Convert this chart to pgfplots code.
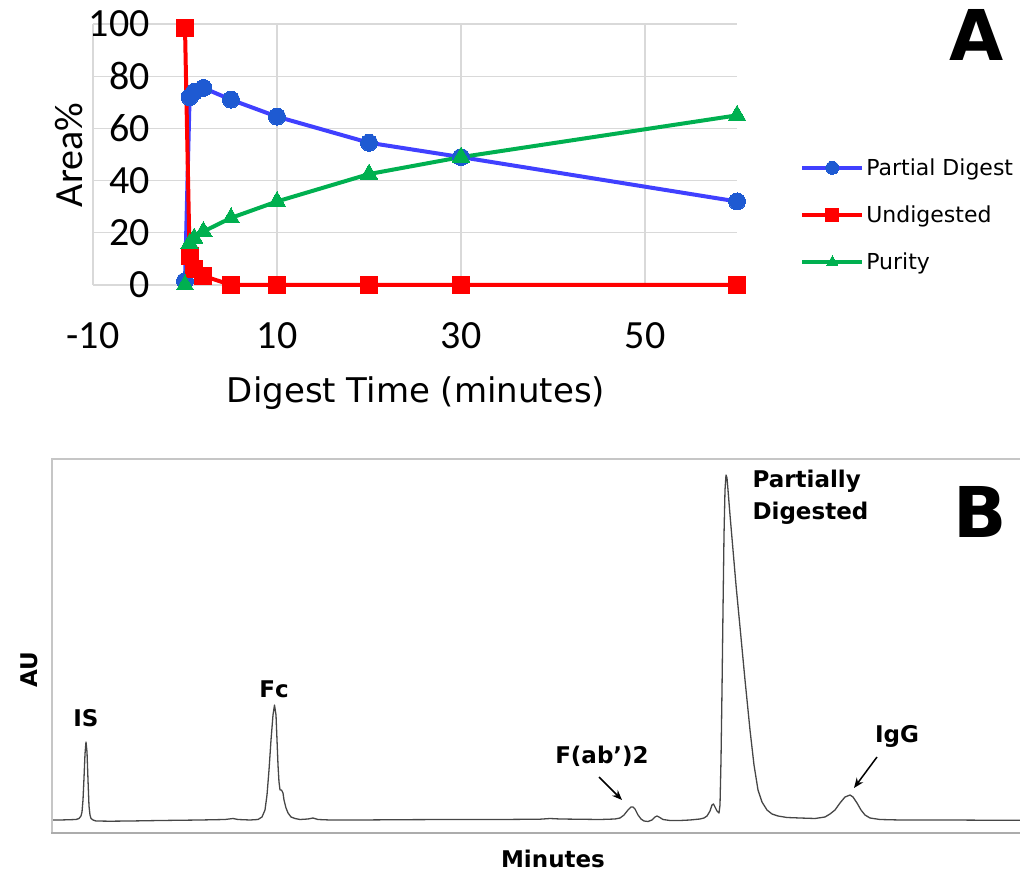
\documentclass[border=0pt]{standalone}
\usepackage{pgfplots}
\pgfplotsset{compat=1.18}
\usepackage{fontspec}
\setmainfont{DejaVu Sans}
\newfontfamily\carlito{Carlito}
\usetikzlibrary{arrows.meta}
\definecolor{pblue}{RGB}{64,64,255}
\definecolor{pbluemark}{RGB}{30,90,210}
\definecolor{pgreen}{RGB}{0,176,80}
\definecolor{gridc}{RGB}{217,217,217}
\definecolor{trace}{RGB}{70,70,70}
\begin{document}
\begin{tikzpicture}[x=1pt,y=1pt]
\useasboundingbox (0,0) rectangle (1020,873);
% ---------------- Panel A ----------------
\begin{axis}[
  at={(93pt,588pt)}, anchor=south west,
  scale only axis, width=644pt, height=261pt,
  xmin=-10, xmax=60, ymin=0, ymax=100,
  xtick={-10,10,30,50}, ytick={0,20,40,60,80,100},
  grid=major, grid style={gridc, line width=1.3pt},
  axis line style={draw=none},
  major tick length=0pt,
  clip=false,
  /pgf/number format/assume math mode=true,
  ticklabel style={font=\carlito\fontsize{40}{40}\selectfont, text=black},
  yticklabel style={anchor=east, inner sep=0pt, xshift=57pt},
  xticklabel style={anchor=north, inner sep=0pt, yshift=-37pt},
  legend style={at={(1.098,0.268)}, anchor=west, draw=none, fill=none,
    inner sep=0pt, row sep=29pt, nodes={inner xsep=2pt, inner ysep=0pt},
    font=\fontsize{22}{22}\selectfont, cells={anchor=west}},
  legend image code/.code={\draw[mark repeat=2, mark phase=2, #1]
     plot coordinates {(0pt,0pt) (30pt,0pt) (60pt,0pt)};},
  legend image post style={mark size=6.5pt},
]
\addplot[pblue, line width=4pt, mark=*, mark size=8.5pt,
  mark options={fill=pbluemark, draw=pbluemark, line width=0pt}]
  coordinates {(0,1.5)(0.5,72)(1,74)(2,75.5)(5,71)(10,64.5)(20,54.5)(30,49)(60,32)};
\addlegendentry{Partial Digest}
\addplot[red, line width=4pt, mark=square*, mark size=8.5pt,
  mark options={fill=red, draw=red, line width=0pt}]
  coordinates {(0,98.5)(0.5,11)(1,6)(2,3.5)(5,0)(10,0)(20,0)(30,0)(60,0)};
\addlegendentry{Undigested}
\addplot[pgreen, line width=4pt, mark=triangle*, mark size=10pt,
  mark options={fill=pgreen, draw=pgreen, line width=0pt}]
  coordinates {(0,0)(0.5,16)(1,18)(2,20.5)(5,25.7)(10,32)(20,42.5)(30,49)(60,65)};
\addlegendentry{Purity}
\end{axis}
\node[rotate=90, anchor=base, font=\carlito\fontsize{40}{40}\selectfont] at (82,718) {Area\%};
\node[anchor=base, font=\fontsize{34}{34}\selectfont] at (416,470) {Digest Time (minutes)};
\node[font=\bfseries\fontsize{70}{70}\selectfont] at (977,838) {A};
% ---------------- Panel B ----------------
\begin{axis}[
  at={(52pt,40pt)}, anchor=south west,
  scale only axis, width=968pt, height=374pt,
  xmin=52, xmax=1020, ymin=-13, ymax=361,
  hide axis, clip=false,
]
\addplot[trace, line width=1.3pt, line join=round] coordinates {
(52,0)(60,0)(70,0.3)(76,0.5)(79,1.5)(81,4)(82,8)(83,20)(84,42)(85,66)(86,78)(87,68)(88,40)(89,14)(90,5)(91,1.5)(93,0)(96,-1)(110,-1.2)(130,-1)(160,-0.5)(200,0)(225,0.5)(233,1.5)(238,0.5)(250,0)
(258,0.5)(262,3)(265,10)(267,25)(269,50)(271,80)(273,105)(274.5,115)(276,105)(277,80)(278,55)(279,38)(280,30)(281.5,30)(283,27)(284,20)(286,12)(288,7)(291,3)(295,1.5)(300,0.5)(308,1)(313,2)(318,0.5)(330,0)
(360,0)(400,0.3)(450,0.5)(500,0.5)(540,0.8)(550,1.5)(560,1)(600,0.5)(615,1)(620,2)(624,5)(628,10)(631,13)(633,13)(635,11)(638,5)(641,1)(644,-1)(648,-1.5)(652,0)(655,3)(657,4)(659,3)(663,0.5)(670,-0.5)(680,-0.5)(690,0)
(700,1)(704,2)(707,4)(710,9)(712,15)(713.5,16)(715,13)(717,9)(719,7)(720,15)(721,60)(722,130)(723,210)(724,285)(725,330)(726,345)(727,342)(728,330)(730,305)(733,270)(736,235)(740,193)(745,140)(750,90)(754,55)(758,30)(762,18)(767,10)(772,6)(778,4)(787,2.5)(800,2)
(815,1.5)(825,3)(830,6)(835,10)(840,17)(845,23)(850,25)(853,23)(857,17)(861,10)(865,5)(870,2)(880,0.5)(900,0)(950,0)(1000,-0.3)(1020,-0.3)
};
\end{axis}
\draw[gray!45, line width=1.8pt] (52,40) -- (52,414) -- (1021,414);
\draw[gray!65, line width=2.5pt] (51,40) -- (1021,40);
\begin{scope}[font=\bfseries\fontsize{23}{23}\selectfont]
\node[anchor=base] at (86,146) {IS};
\node[anchor=base] at (274,175) {Fc};
\node[anchor=base] at (602,109) {F(ab’)2};
\node[anchor=base] at (897,130) {IgG};
\node[anchor=base west] at (749,385) {Partially};
\node[anchor=base west] at (749,353) {Digested};
\node[anchor=base] at (553,6) {Minutes};
\node[anchor=base, rotate=90] at (37,203) {AU};
\end{scope}
\draw[line width=1.5pt, -{Stealth[length=10pt, width=8pt]}] (599,96) -- (622,73);
\draw[line width=1.5pt, -{Stealth[length=10pt, width=8pt]}] (877,116) -- (854,85);
\node[font=\bfseries\fontsize{70}{70}\selectfont] at (980,361) {B};
\end{tikzpicture}
\end{document}
